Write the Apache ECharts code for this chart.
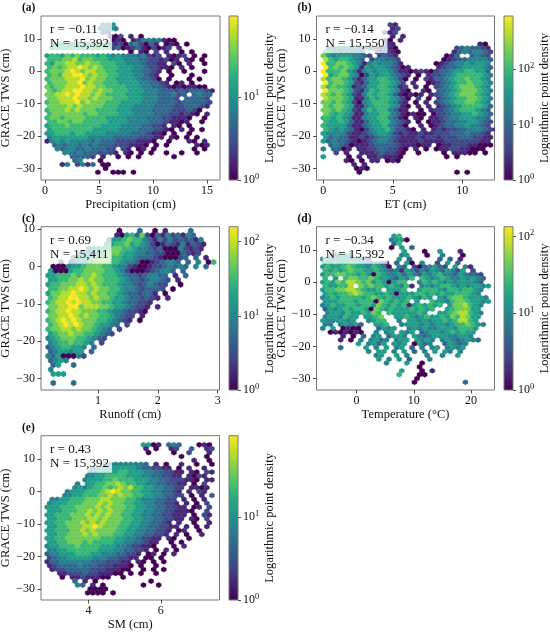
<!DOCTYPE html>
<html lang="en">
<head>
<meta charset="UTF-8">
<title>GRACE TWS hexbin</title>
<script src="https://cdn.jsdelivr.net/npm/echarts@6/dist/echarts.min.js"></script>
<style>
  html, body { margin: 0; padding: 0; background: #fff; }
  #chart { width: 550px; height: 633px; }
</style>
</head>
<body>
<div id="chart"></div>
<script>
// hex rows, top to bottom (TWS 14.4 cm down to -31.2 cm, one row per 1.2 cm)
// each char = log point density level of one hex (0 = 10^0 ... 9 = colorbar max), '.' = empty
var precipHex = [
  "...........445",
  "..........4444",
  "...........32",
  "............102.1.0",
  ".............010.124434100",
  ".555555555553120342031.010.0",
  ".666666666666230123102012.1",
  "................0.10.2.1..0.0",
  "56657676665654544434212.1012.0.0",
  "66677867766655544433221201.10.0",
  "657788778776665544432211.20.1..0",
  "6767889878766655544322110.1.0",
  "67778987887766555443321.0..0...0",
  "6768899878776655544321..0...0",
  "67778889787766555543320.0...0.0",
  "677788978776665555443321.01.0",
  "76778889887766665554433210101100",
  "767889988787766655544433323233321",
  "7788989887876666555444333423.3433",
  "77888988787776665554443332.33332",
  "677888978777666555544433332333332",
  "77778787777666555444433332233321",
  "6777878777666655544443333222320",
  "677777767766665554444333221210.1",
  "67767777666655554444333221110..0",
  "6677677666665555444433321101..0",
  "566676666665555444433221.10.0",
  "5666666665555544443332210.1.0.0",
  "556665665555444443332110.0..0",
  "45555555444443333322211.10.0.0",
  "1454544443433322221110..0...10.1",
  ".3434434343332221110.0.0.....101",
  "..434433433322.21.01.0.......0.0",
  "...44343332321.10.0.0..0..0..0",
  ".....33332.1..0.0.0......0",
  ".....34...0",
  "...14.2413.00",
  "...........0",
  "..........0..000.0"
];
var etHex = [
  ".............21",
  ".............12",
  "............212",
  ".............1.1",
  "............20.1",
  "............11................10",
  ".44444444332210...........2343321",
  "65434443..32210..........13434432",
  "7545554432.2321.........013..3432",
  "86566543.244332........0123344443",
  "9667765414544431......01234454554",
  "96767651545543201.....12334555543",
  "966675414545543110121023345566553",
  "95677540254554321.0.1223456666654",
  "86776531355665420.0.2133456676654",
  "9677652135566542.1..0123456676654",
  "86766512355665412.1.0.23456777654",
  "97776521465665410..10.33456777654",
  "87676521465665310101.123456777654",
  "87776511465665420.2.0.23456677654",
  "77676520456665421.0.1.23456677654",
  "76776511456665410.1.1.12345666653",
  "77676521465664311..0.122345666543",
  "76565411455664310100.022344556543",
  "66565411455664310.10.112344555443",
  "65565311355664321.0.0112334455432",
  "65555311345564320..1.012334454432",
  "654543102455642210.1.1212233444321",
  "544442112345542121121122233343321",
  "534331121234432111212212223332211",
  "534332101234432111121111222222211.",
  ".34320111233332111011.01122211000",
  "4.3301.1122332210.1.0.0112211000.",
  "..2.1..111232210..0....0.11100.0.",
  "5....0.1.1121110........0.0......",
  "....10.0.11.010",
  "......1.1",
  "......010",
  ".......0..................0.0"
];
var runoffHex = [
  "",
  "",
  "",
  "",
  "..............0...3..0.1....3",
  ".............1056372031423143",
  "............3556766431424232314",
  "...........55667565420132141321",
  "........45566776654432300042121",
  "......445567776554433220003212",
  ".....34556777665543332100023.3.1",
  "..1.2455677766544300123443.3.4.06",
  ".000455677766544210012234343.4.3.",
  "5000566777766542000123443.3",
  "556667677876665433234433.1.3",
  "556677878776665433234432.1",
  "566777887876665443234322..0",
  "66778898787766544323332.0",
  "5778898878776654332331.0",
  "6788998878776554332321.1",
  "678898988776655433221",
  "77889978887765543221.1",
  "67889887776654432210",
  "77889878776654322.1",
  "67898987776654321.0",
  "67898987765543.2",
  "6778878776543.2",
  "5677877665432",
  "456777665432",
  "456676654.2",
  "34566554.3",
  "3455455.3",
  "43500042",
  "3454.",
  ".35..3",
  "4",
  ".555",
  "",
  ".3...3"
];
var tempHex = [
  "..............56",
  ".............4550",
  "..............36",
  ".............0.5.3",
  "................5...0..5...1",
  ".44454.........45...0..4...0",
  "4545554443.....5.3.....3.3.1",
  "5565566544531.3.50.4..2.5.3",
  "56556765546540.43.2034532.5.41",
  "6565676655654341542435435425.2",
  "56677665650654453543545644354332",
  "6.5.67766765543546.6545654454543",
  "56576887675650566..4656545455543",
  "655668.76766565461.45456654545545",
  "566778876556.5556..5666546656654",
  "5656678766556505556656565566654",
  "4565666656765655565465.5467765554",
  "55566656660765656.5..655467765545",
  "456556656657656561565656.5778654",
  "3545656650765655565656..5677755",
  ".45546556576.65555565..556788654",
  "4554655.5567..55654565565768755",
  "5445545..4566..4.55454556568865",
  "44.45453..556..45554545545667654",
  "4.5.0100...3545..45454455546665",
  ".0101010..4.45.545.34554565655",
  "....1.0.3.45.3554.543455544554",
  "...1.0.4.4534.455.5454.45434543",
  ".......5.4535.545.0534..35434",
  "...3....5.4.5.45.3.4.45.4545",
  ".........4.55.4.5.3.4.5.54.4",
  "..........45..5.4...4..4..5",
  "...........5.4.5.3...4",
  "............4...5..0",
  "...................0",
  "...............5...0.1",
  "...............6...00",
  "..................0",
  "..................0.........3"
];
var smHex = [
  "...................5501.343...010",
  "...................1.0..12..3..12",
  "....................0....0..2...1",
  "..........................0....0",
  ".............................1..0",
  "...........444444443.1.0..1..0..0",
  ".........4545555554332211.0.1..1",
  "........4455556655544332211.10.21",
  "........4455666655544332211.1021",
  ".......45556676665554433222110.11",
  "......4.55667787665544332211.0.2",
  ".....4545667678786655443322.1101",
  "....45556667898776655443321.1.21",
  "...445566677878776655443322.0.1.3",
  ".4455666777887776654443322.1.0.1",
  "45556667778787766554433221.1.0.2",
  "5556667777878777665544332211.01.2",
  "55566677878787766554433221110..2",
  "5566677787878776655443322111.0.21",
  "556667778878777665544332211.10.2",
  "5566777878787776655443321.1..0..1",
  "55667778898777665544332211.1.0.1",
  "5566677878777766554433221.01..0",
  "556677787877766554433221.1.0..1",
  "55667777777666554432211.10..0",
  "5566777676666554433211..0.0",
  "4556667666655544322110...0.1",
  "44556666665554433221.0.1.0",
  "3445556665544433221.01.0.1",
  "234455555444332211.00.0",
  "13344444433322211.10.0.0",
  "12333343332221110.0..0",
  ".1223333322211100..0.0.0",
  "..1122232211100.0.0..0",
  "...0.11211100..0",
  ".....3.1.0..........0",
  "......43.1.0.......0..0",
  "........0000",
  "........0000.0"
];

var panelTags = ['(a)', '(b)', '(c)', '(d)', '(e)'];
var xNames = ['Precipitation (cm)', 'ET (cm)', 'Runoff (cm)', 'Temperature (\u00b0C)', 'SM (cm)'];
var xTicks = [[0, 5, 10, 15], [0, 5, 10], [1, 2, 3], [0, 10, 20], [4, 6]];
var yTicks = [-30, -20, -10, 0, 10];
var rValues = ['\u22120.11', '\u22120.14', '0.69', '\u22120.34', '0.43'];
var nValues = ['15,392', '15,550', '15,411', '15,392', '15,392'];
var densityMaxExp = [1.97, 2.95, 2.2, 2.13, 1.98];
var densityTicks = [[0, 1], [0, 1, 2], [0, 1, 2], [0, 1, 2], [0, 1]];

// hexbin geometry (data units)
var hexRowTop = 14.4, hexRowStep = 1.2;
var hexCols = [
  { x0: 0.2, dx: 0.47 },
  { x0: 0, dx: 0.37 },
  { x0: 0.17, dx: 0.085 },
  { x0: -5.9, dx: 0.89 },
  { x0: 2.86, dx: 0.14 }
];

// layout
var FONT = '"Liberation Serif", "DejaVu Serif", serif';
var plotBoxes = [
  [41, 16, 179, 164], [316.5, 16, 178, 164],
  [41, 226.7, 178.5, 163.3], [316.5, 226.7, 178, 163.3],
  [41, 435.7, 178.5, 164.3]
];
var barBoxes = [
  [229, 16, 9, 164], [504, 16, 9, 164],
  [229, 226.7, 9, 163.3], [504, 226.7, 9, 163.3],
  [229, 435.7, 9, 164.3]
];
var xRanges = [[-0.37, 16.2], [-0.49, 12.32], [0.05, 3.03], [-7.0, 24.1], [2.69, 7.62]];
var yRanges = [[-33.6, 17.1], [-33.6, 17.1], [-33.1, 10.7], [-33.6, 17.3], [-33.4, 17.2]];
var hexData = [precipHex, etHex, runoffHex, tempHex, smHex];

var VIRIDIS = ['#440154', '#482475', '#414487', '#355f8d', '#2a788e', '#21918c',
               '#22a884', '#44bf70', '#7ad151', '#bddf26', '#fde725'];

function hexToRgb(h) {
  return [parseInt(h.slice(1, 3), 16), parseInt(h.slice(3, 5), 16), parseInt(h.slice(5, 7), 16)];
}
function viridis(t) {
  t = Math.max(0, Math.min(1, t));
  var f = t * (VIRIDIS.length - 1);
  var i = Math.min(Math.floor(f), VIRIDIS.length - 2);
  var a = hexToRgb(VIRIDIS[i]), b = hexToRgb(VIRIDIS[i + 1]);
  var k = f - i;
  return 'rgb(' + [0, 1, 2].map(function (j) { return Math.round(a[j] + (b[j] - a[j]) * k); }).join(',') + ')';
}
function minus(v) { return v < 0 ? '\u2212' + Math.abs(v) : String(v); }

var chart = echarts.init(document.getElementById('chart'), null, { renderer: 'canvas' });

var grids = [], xAxes = [], yAxes = [], series = [], graphics = [];
var tickLine = { color: '#222', width: 0.8 };
var labelStyle = { color: '#111', fontFamily: FONT, fontSize: 12 };
var nameStyle = { color: '#111', fontFamily: FONT, fontSize: 12.5 };

plotBoxes.forEach(function (b, i) {
  grids.push({ left: b[0], top: b[1], width: b[2], height: b[3], show: true,
    borderColor: '#777', borderWidth: 1, backgroundColor: 'transparent', outerBoundsMode: 'none' });
  xAxes.push({
    gridIndex: i, type: 'value', min: xRanges[i][0], max: xRanges[i][1],
    axisLine: { show: false, onZero: false },
    axisTick: { show: true, length: 3.5, lineStyle: tickLine, customValues: xTicks[i] },
    axisLabel: Object.assign({ margin: 5, customValues: xTicks[i], formatter: minus }, labelStyle),
    splitLine: { show: false },
    name: xNames[i], nameLocation: 'middle', nameGap: 11, nameTextStyle: nameStyle
  });
  yAxes.push({
    gridIndex: i, type: 'value', min: yRanges[i][0], max: yRanges[i][1],
    axisLine: { show: false, onZero: false },
    axisTick: { show: true, length: 3.5, lineStyle: tickLine, customValues: yTicks },
    axisLabel: Object.assign({ margin: 6, customValues: yTicks, formatter: minus }, labelStyle),
    splitLine: { show: false },
    name: 'GRACE TWS (cm)', nameLocation: 'middle', nameGap: 23, nameTextStyle: nameStyle
  });
});

barBoxes.forEach(function (b, i) {
  grids.push({ left: b[0], top: b[1], width: b[2], height: b[3], show: false, outerBoundsMode: 'none' });
  xAxes.push({ gridIndex: 5 + i, type: 'value', min: 0, max: 1, show: false });
  yAxes.push({
    gridIndex: 5 + i, type: 'value', min: 0, max: densityMaxExp[i], position: 'right',
    axisLine: { show: false, onZero: false },
    axisTick: { show: true, length: 3, lineStyle: tickLine, customValues: densityTicks[i] },
    axisLabel: {
      margin: 5, customValues: densityTicks[i],
      formatter: function (v) { return '{b|10}{s|' + v + '}'; },
      rich: {
        b: { fontFamily: FONT, fontSize: 12, color: '#111' },
        s: { fontFamily: FONT, fontSize: 8.5, color: '#111', verticalAlign: 'bottom', padding: [0, 0, 7, 0] }
      }
    },
    splitLine: { show: false },
    name: 'Logarithmic point density', nameLocation: 'middle', nameGap: 21, nameRotate: 90,
    nameTextStyle: nameStyle
  });
});

// hexbin series
hexData.forEach(function (rows, i) {
  var bin = hexCols[i];
  var cells = [];
  rows.forEach(function (row, r) {
    var y = hexRowTop - r * hexRowStep;
    var shift = r % 2 ? 0.5 : 0;
    for (var c = 0; c < row.length; c++) {
      if (row[c] === '.') continue;
      cells.push([bin.x0 + (c + shift) * bin.dx, y, +row[c]]);
    }
  });
  series.push({
    type: 'custom', xAxisIndex: i, yAxisIndex: i, data: cells, clip: true, silent: true,
    encode: { x: 0, y: 1 },
    renderItem: function (params, api) {
      var p = api.coord([api.value(0), api.value(1)]);
      var s = api.size([bin.dx, hexRowStep * 4 / 3]);
      var w = s[0] / 2, h = s[1] / 2;
      var col = viridis(api.value(2) / 9);
      return {
        type: 'polygon',
        shape: { points: [[p[0], p[1] - h], [p[0] + w, p[1] - h / 2], [p[0] + w, p[1] + h / 2],
                          [p[0], p[1] + h], [p[0] - w, p[1] + h / 2], [p[0] - w, p[1] - h / 2]] },
        style: { fill: col, stroke: col, lineWidth: 0.4 }
      };
    }
  });
});

// colorbars
var gradStops = VIRIDIS.map(function (c, k) { return { offset: k / (VIRIDIS.length - 1), color: c }; });
densityMaxExp.forEach(function (mx, i) {
  series.push({
    type: 'custom', xAxisIndex: 5 + i, yAxisIndex: 5 + i, data: [[0, 0]], silent: true,
    renderItem: function (params, api) {
      var lo = api.coord([0, 0]), hi = api.coord([1, mx]);
      return {
        type: 'rect',
        shape: { x: lo[0], y: hi[1], width: hi[0] - lo[0], height: lo[1] - hi[1] },
        style: { fill: new echarts.graphic.LinearGradient(0, 1, 0, 0, gradStops), stroke: '#777', lineWidth: 1 }
      };
    }
  });
});

// panel tags and r / N annotations
plotBoxes.forEach(function (b, i) {
  graphics.push({
    type: 'text', z: 100, x: b[0] - 19, y: b[1] - 14,
    style: { text: panelTags[i], font: 'bold 11.5px ' + FONT, fill: '#111' }
  });
  graphics.push({
    type: 'text', z: 100, x: b[0] + 6, y: b[1] + 5,
    style: {
      text: 'r = ' + rValues[i] + '\nN = ' + nValues[i],
      font: '13px ' + FONT, lineHeight: 14, fill: '#111',
      backgroundColor: 'rgba(255,255,255,0.75)', padding: [2, 3, 2, 3]
    }
  });
});

chart.setOption({
  animation: false,
  backgroundColor: '#fff',
  grid: grids,
  xAxis: xAxes,
  yAxis: yAxes,
  series: series,
  graphic: graphics
});
</script>
</body>
</html>
